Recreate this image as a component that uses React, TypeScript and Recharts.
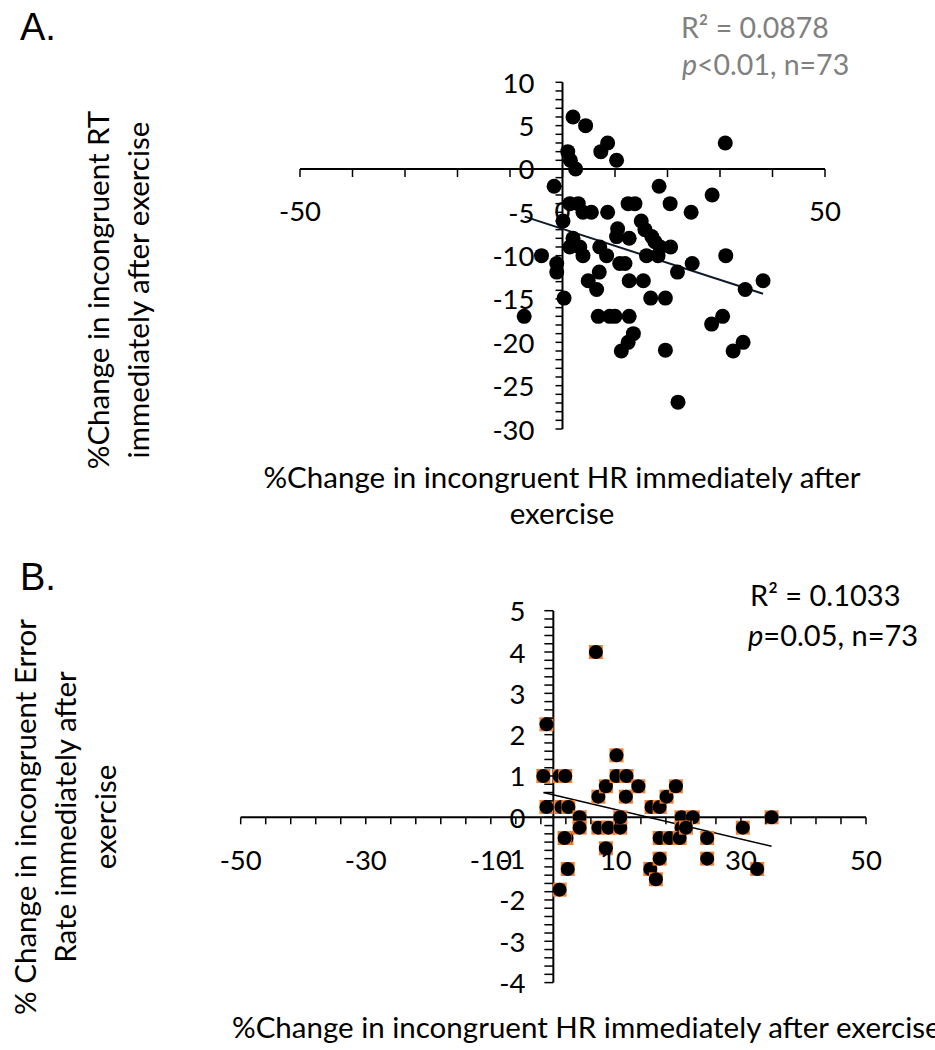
import { ScatterChart, Scatter, XAxis, YAxis, ReferenceLine } from "recharts";

const FONT = "Lato, 'Open Sans', sans-serif";

// Panel A: % change HR (x) vs % change RT (y)
const A_HR = [
  2, 4.4, 1, 1.5, 2.5, 8.6, 7.3, 10.3, 31,
  -1.6, 1.4, 3, 3.9, 5.5, 8.6, 0.1, 12.5, 13.8, 18.4, 20.5, 24.5, 28.5,
  15, 15.7, 17, 17.6, 10.5, 10.3, 12.7, 2, 1.4, 3.3, 3.9, 7.1, 8.4,
  16, 18.2, 18.6, 20.6, 10.9, 11.9, -4, -1.1, -1.1, 7, 4.9, 6.5, 12.7,
  15.4, 21.9, 24.7, 31.1, 34.8, 38.2, 0.3, -7.3, 6.8, 9, 10, 12.7, 16.8,
  19.6, 11.2, 12.5, 13.5, 19.6, 22, 28.4, 30.5, 32.5, 34.4,
];
const A_RT = [
  6, 5, 2, 1, 0, 3, 2, 1, 3,
  -2, -4, -4, -5, -5, -5, -6, -4, -4, -2, -4, -5, -3,
  -6, -7, -7.8, -8.4, -6.9, -7.8, -8, -8, -9, -9, -10, -9, -10,
  -10, -10, -9, -9, -10.9, -10.9, -10, -10.9, -11.9, -11.9, -12.9, -13.9, -12.9,
  -12.9, -11.9, -10.9, -10, -13.9, -12.9, -14.9, -17, -17, -17, -17, -17, -14.9,
  -14.9, -21, -20, -19, -20.9, -26.9, -17.9, -17, -21, -20,
];
const A_TREND_X = [-7.2, 38.2];
const A_TREND_Y = [-5.5, -14.4];
const A_X_TICKS = [-50, -40, -30, -20, -10, 0, 10, 20, 30, 40, 50];
const A_X_LABELS = [-50, 0, 50];
const A_Y_TICKS = Array.from({ length: 41 }, (_, i) => 10 - i);
const A_Y_LABELS = [10, 5, 0, -5, -10, -15, -20, -25, -30];

// Panel B: % change HR (x) vs % change error rate (y)
const B_HR = [
  -1.1, 6.8, -1.6, -1.1, 1, 1.9, 1.3, 2.4, 4.2, 4.2, 2.1, 7.2, 8.4, 10.1, 11.7,
  10.1, 11.6, 13.6, 15.7, 17, 18.1, 19.6, 20.5, 22.3, 20.5, 7.2, 8.8, 10.7, 10.7,
  1.8, 2.3, 1, 8.4, 15.5, 16.4, 17, 17, 18.6, 20.2, 21.2, 24.6, 24.6, 30.3, 34.9, 32.6,
];
const B_ERR = [
  2.25, 4, 1, 0.25, 1, 1, 0.25, 0.25, 0, -0.25, -0.5, 0.5, 0.75, 1, 1,
  1.5, 0.5, 0.75, 0.25, 0.25, 0.5, 0.75, 0, 0, -0.25, -0.25, -0.25, -0.25, 0,
  -0.5, -1.25, -1.75, -0.75, -1.25, -1.5, -1, -0.5, -0.5, -0.5, -0.25, -0.5, -1, -0.25, 0, -1.25,
];
const B_TREND_X = [-1.6, 34.9];
const B_TREND_Y = [0.6, -0.7];
const B_X_TICKS = Array.from({ length: 26 }, (_, i) => -50 + i * 4);
const B_X_LABELS = [-50, -30, -10, 10, 30, 50];
const B_Y_TICKS = Array.from({ length: 46 }, (_, i) => Math.round((5 - i * 0.2) * 10) / 10);
const B_Y_LABELS = [5, 4, 3, 2, 1, 0, -1, -2, -3, -4];

const dataA = A_HR.map((x, i) => ({ x, y: A_RT[i] }));
const dataB = B_HR.map((x, i) => ({ x, y: B_ERR[i] }));

const W = 935;
const AXIS = 1; // size reserved for the (invisible) axis strips
const A_H = 520;
const A_M = { top: 82.3, bottom: 90, left: 299, right: 110 };
const B_H = 530;
const B_M = { top: 90.7, bottom: 66.4, left: 239.7, right: 69 };

// pixel of value 0 inside the plot area
function zeroPos(m: typeof A_M, h: number, xd: number[], yd: number[]) {
  const left = m.left + AXIS;
  const pw = W - left - m.right;
  const ph = h - m.top - m.bottom - AXIS;
  return {
    zx: left + (pw * (0 - xd[0])) / (xd[1] - xd[0]),
    zy: m.top + (ph * yd[1]) / (yd[1] - yd[0]),
  };
}

const tickText = { fontSize: 27.5, fontFamily: FONT, fill: "#000" };

function xTick(zy: number, labels: number[], len: number) {
  return (props: any) => {
    const { x, payload } = props;
    const v = payload.value;
    return (
      <g>
        <line x1={x} x2={x} y1={zy} y2={zy + len} stroke="#000" strokeWidth={1.5} />
        {labels.includes(v) && (
          <text x={x} y={zy + 42} textAnchor="middle" dominantBaseline="central" {...tickText}>
            {v}
          </text>
        )}
      </g>
    );
  };
}

function yTick(zx: number, labels: number[], len: number) {
  return (props: any) => {
    const { y, payload } = props;
    const v = payload.value;
    return (
      <g>
        <line x1={zx - len} x2={zx} y1={y} y2={y} stroke="#000" strokeWidth={1.5} />
        {labels.includes(v) && (
          <text x={zx - 28} y={y} textAnchor="end" dominantBaseline="central" {...tickText}>
            {v}
          </text>
        )}
      </g>
    );
  };
}

const BlackDot = (props: any) => <circle cx={props.cx} cy={props.cy} r={7.5} fill="#000" />;

const OrangeBackedDot = (props: any) => (
  <g>
    <rect x={props.cx - 7} y={props.cy - 7} width={14} height={14} fill="#ED7D31" />
    <circle cx={props.cx} cy={props.cy} r={7} fill="#000" />
  </g>
);

const abs = (left: number, top: number, extra: any = {}) => ({
  position: "absolute" as const,
  left,
  top,
  fontFamily: FONT,
  fontSize: 29.5,
  whiteSpace: "nowrap" as const,
  color: "#000",
  ...extra,
});

const vertical = (cx: number, cy: number) =>
  abs(cx, cy, { transform: "translate(-50%, -50%) rotate(-90deg)", textAlign: "center", lineHeight: "40px" });

export default function App() {
  const a = zeroPos(A_M, A_H, [-50, 50], [-30, 10]);
  const b = zeroPos(B_M, B_H, [-50, 50], [-4, 5]);

  return (
    <div style={{ position: "absolute", left: 0, top: 0, width: W, height: 1050, overflow: "hidden", background: "#fff" }}>
      {/* Panel A */}
      <div style={{ position: "absolute", left: 0, top: 0 }}>
        <ScatterChart width={W} height={A_H} margin={A_M}>
          <XAxis type="number" dataKey="x" domain={[-50, 50]} ticks={A_X_TICKS} interval={0} height={AXIS}
            axisLine={false} tickLine={false} tick={xTick(a.zy, A_X_LABELS, 8)} />
          <YAxis type="number" dataKey="y" domain={[-30, 10]} ticks={A_Y_TICKS} interval={0} width={AXIS}
            axisLine={false} tickLine={false} tick={yTick(a.zx, A_Y_LABELS, 7)} />
          <ReferenceLine y={0} stroke="#000" strokeWidth={2} />
          <ReferenceLine x={0} stroke="#000" strokeWidth={2} />
          <Scatter data={dataA} shape={BlackDot} isAnimationActive={false} />
          <ReferenceLine
            segment={[{ x: A_TREND_X[0], y: A_TREND_Y[0] }, { x: A_TREND_X[1], y: A_TREND_Y[1] }]}
            stroke="#0d1a2b" strokeWidth={2}
          />
        </ScatterChart>
      </div>

      {/* Panel B */}
      <div style={{ position: "absolute", left: 0, top: 520 }}>
        <ScatterChart width={W} height={B_H} margin={B_M}>
          <XAxis type="number" dataKey="x" domain={[-50, 50]} ticks={B_X_TICKS} interval={0} height={AXIS}
            axisLine={false} tickLine={false} tick={xTick(b.zy, B_X_LABELS, 7)} />
          <YAxis type="number" dataKey="y" domain={[-4, 5]} ticks={B_Y_TICKS} interval={0} width={AXIS}
            axisLine={false} tickLine={false} tick={yTick(b.zx, B_Y_LABELS, 9)} />
          <ReferenceLine y={0} stroke="#000" strokeWidth={2} />
          <ReferenceLine x={0} stroke="#000" strokeWidth={2} />
          <Scatter data={dataB} shape={OrangeBackedDot} isAnimationActive={false} />
          <ReferenceLine
            segment={[{ x: B_TREND_X[0], y: B_TREND_Y[0] }, { x: B_TREND_X[1], y: B_TREND_Y[1] }]}
            stroke="#000" strokeWidth={1.5}
          />
        </ScatterChart>
      </div>

      {/* panel letters */}
      <div style={abs(20, 6, { fontFamily: "'Liberation Sans', Arial, sans-serif", fontSize: 38 })}>A.</div>
      <div style={abs(20, 556, { fontFamily: "'Liberation Sans', Arial, sans-serif", fontSize: 38 })}>B.</div>

      {/* panel A annotations */}
      <div style={abs(681, 10, { color: "#808080", fontSize: 28.5 })}>R² = 0.0878</div>
      <div style={abs(682, 47, { color: "#808080", fontSize: 28.5 })}>
        <i>p</i>&lt;0.01, n=73
      </div>
      <div style={vertical(118, 290)}>
        %Change in incongruent RT
        <br />
        immediately after exercise
      </div>
      <div style={abs(562, 459, { transform: "translateX(-50%)", textAlign: "center", lineHeight: "36px" })}>
        %Change in incongruent HR immediately after
        <br />
        exercise
      </div>

      {/* panel B annotations */}
      <div style={abs(750, 577, { fontSize: 29 })}>R² = 0.1033</div>
      <div style={abs(748, 617, { fontSize: 29 })}>
        <i>p</i>=0.05, n=73
      </div>
      <div style={vertical(64.5, 817)}>
        % Change in incongruent Error
        <br />
        Rate immediately after
        <br />
        exercise
      </div>
      <div style={abs(232, 1009)}>%Change in incongruent HR immediately after exercise</div>
    </div>
  );
}
